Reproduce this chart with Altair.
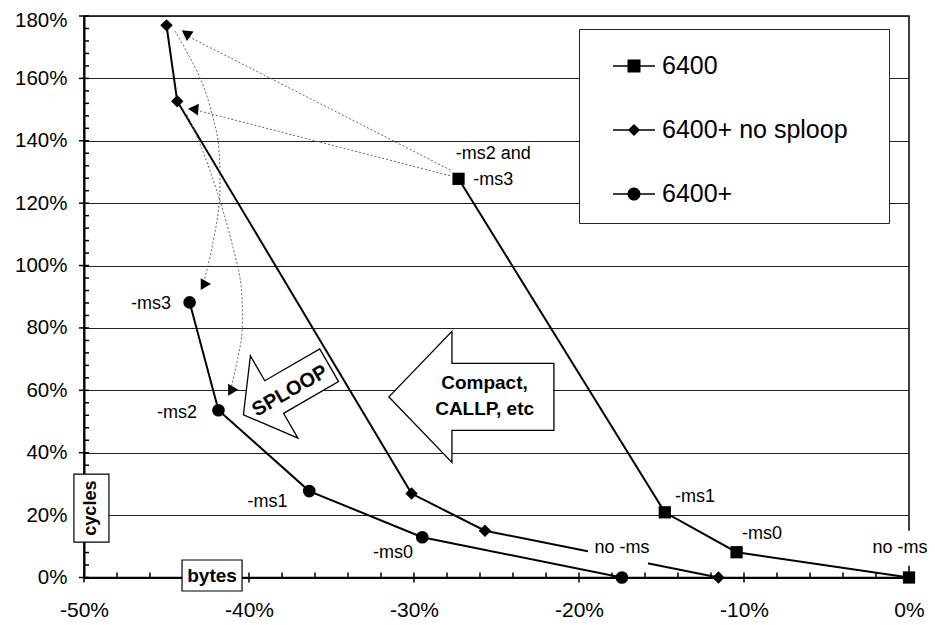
import altair as alt
import pandas as pd

FONT = "Liberation Sans"

# ---------------- data (percent change vs 6400 "no -ms") ----------------
series_names = ["6400", "6400+ no sploop", "6400+"]

x_6400 = [-27.3, -14.8, -10.45, 0.0]
y_6400 = [127.8, 20.9, 8.1, 0.0]

x_nosploop = [-45.0, -44.35, -30.15, -25.7, -11.55]
y_nosploop = [177.0, 152.7, 26.9, 15.0, 0.0]

x_plus = [-43.6, -41.85, -36.35, -29.5, -17.4]
y_plus = [88.2, 53.6, 27.7, 12.9, 0.0]

# point labels
label_text = ["-ms2 and", "-ms3", "-ms1", "-ms0", "no -ms",
              "no -ms", "-ms3", "-ms2", "-ms1", "-ms0"]
label_x = [-25.2, -25.2, -12.97, -8.91, -0.55, -17.39, -45.94, -44.36, -38.88, -31.27]
label_y = [135.8, 127.5, 25.8, 13.9, 9.4, 9.4, 87.8, 52.6, 24.3, 7.8]

# white patches behind the two "no -ms" labels
patch_x = [-0.55, -17.64]
patch_y = [9.4, 9.3]

# axis ticks
x_major = [-50, -40, -30, -20, -10, 0]
x_minor = [-48, -46, -44, -42, -38, -36, -34, -32, -28, -26, -24, -22,
           -18, -16, -14, -12, -8, -6, -4, -2]
y_major = [0, 20, 40, 60, 80, 100, 120, 140, 160, 180]
y_minor = [4, 8, 12, 16, 24, 28, 32, 36, 44, 48, 52, 56, 64, 68, 72, 76,
           84, 88, 92, 96, 104, 108, 112, 116, 124, 128, 132, 136,
           144, 148, 152, 156, 164, 168, 172, 176]

# dotted connector arrows (straight)
line1_x = [-27.78, -43.74]
line1_y = [130.6, 173.6]
line2_x = [-27.82, -43.38]
line2_y = [128.8, 150.1]
# dotted connector arrows (curved)
curveA_x = [-44.48, -42.97, -42.18, -41.82, -41.79, -42.24, -42.73]
curveA_y = [175.2, 160.2, 147.4, 136.8, 120.8, 105.8, 94.9]
curveB_x = [-43.76, -42.79, -41.76, -40.97, -40.48, -40.42, -40.67, -41.09]
curveB_y = [148.5, 136.6, 120.8, 105.8, 93.6, 79.2, 70.6, 60.6]
# arrow heads
head_x = [-43.74, -43.38, -42.77, -41.11]
head_y = [173.6, 150.1, 93.6, 59.7]
head_angle = [275, 5, 300, 300]

# big block arrows and their texts
compact_pos = (-26.52, 57.9)
compact_text = ["Compact,", "CALLP, etc"]
compact_text_x = [-25.73, -25.72]
compact_text_y = [62.2, 53.9]
sploop_pos = (-37.74, 60.1)
sploop_text_pos = (-37.52, 59.8)

bytes_pos = (-42.24, 0.64)
cycles_pos = (-49.55, 22.24)

# ---------------- tables ----------------
rows = []
for name, xs, ys in [(series_names[0], x_6400, y_6400),
                     (series_names[1], x_nosploop, y_nosploop),
                     (series_names[2], x_plus, y_plus)]:
    for i, (xv, yv) in enumerate(zip(xs, ys)):
        rows.append({"series": name, "i": i, "x": xv, "y": yv})
series_df = pd.DataFrame(rows)


def path_df(paths):
    r = []
    for pid, xs, ys in paths:
        for i, (xv, yv) in enumerate(zip(xs, ys)):
            r.append({"path": pid, "i": i, "x": xv, "y": yv})
    return pd.DataFrame(r)


straight_df = path_df([("a", line1_x, line1_y), ("b", line2_x, line2_y)])
curve_df = path_df([("A", curveA_x, curveA_y), ("B", curveB_x, curveB_y)])
labels_df = pd.DataFrame({"t": label_text, "x": label_x, "y": label_y})
patch_df = pd.DataFrame({"x": patch_x, "y": patch_y})

# ---------------- scales / axes ----------------
xscale = alt.Scale(domain=[-50, 0], nice=False, zero=False)
yscale = alt.Scale(domain=[0, 180], nice=False, zero=False)

x_axis = alt.Axis(
    values=x_major, title=None, grid=False, ticks=False, tickSize=0,
    labelExpr="datum.value + '%'",
    labelOverlap=False, labelFlush=False, labelFont=FONT, labelFontSize=21,
    labelColor="black", labelPadding=22,
    domainColor="black", domainWidth=2,
)
y_axis = alt.Axis(
    values=y_major, title=None, grid=True, gridColor="#222", gridWidth=1,
    ticks=False, tickSize=0,
    labelExpr="datum.value + '%'",
    labelOffset=alt.condition("datum.value === 180", alt.value(4), alt.value(0)),
    labelOverlap=False, labelFlush=False, labelFont=FONT, labelFontSize=20.5,
    labelColor="black", labelPadding=17,
    domainColor="black", domainWidth=2,
)


def X():
    return alt.X("x:Q", scale=xscale, axis=x_axis, title=None)


def Y():
    return alt.Y("y:Q", scale=yscale, axis=y_axis, title=None)


def one(pos):
    return pd.DataFrame({"x": [pos[0]], "y": [pos[1]]})


# ---------------- shapes ----------------
LEG_LINE = "M-1,-0.04L1,-0.04L1,0.04L-1,0.04Z"
LEG_SQ = LEG_LINE + " M-0.31,-0.31L0.31,-0.31L0.31,0.31L-0.31,0.31Z"
LEG_DI = LEG_LINE + " M-0.29,0L0,-0.29L0.29,0L0,0.29Z"
LEG_CI = LEG_LINE + " M-0.31,0A0.31,0.31,0,1,1,0.31,0A0.31,0.31,0,1,1,-0.31,0Z"
COMPACT_PATH = "M-1,0L-0.236,-0.794L-0.236,-0.406L1,-0.406L1,0.406L-0.236,0.406L-0.236,0.794Z"
SPLOOP_PATH = "M-1,0L-0.283,-0.96L-0.283,-0.38L1,-0.38L1,0.38L-0.283,0.38L-0.283,0.96Z"
RECT_WIDE = "M-1,-0.517L1,-0.517L1,0.517L-1,0.517Z"
RECT_TALL = "M-0.515,-1L0.515,-1L0.515,1L-0.515,1Z"
RECT_PATCH = "M-1,-0.583L1,-0.583L1,0.583L-1,0.583Z"

# ---------------- layers ----------------
lines = alt.Chart(series_df).mark_line(color="black", strokeWidth=2).encode(
    x=X(), y=Y(), detail="series:N", order="i:Q")

# axis tick marks (major crossing the axis, minor inside)
xt_major = alt.Chart(pd.DataFrame({"x": x_major, "y": [0] * len(x_major)})).mark_tick(
    orient="vertical", size=10, thickness=1.5, color="black", opacity=1).encode(x=X(), y=Y())
xt_minor = alt.Chart(pd.DataFrame({"x": x_minor, "y": [0] * len(x_minor)})).mark_tick(
    orient="vertical", size=5, thickness=1.5, color="black", opacity=1, yOffset=-2.5).encode(
    x=X(), y=Y())
yt_major = alt.Chart(pd.DataFrame({"x": [-50] * len(y_major), "y": y_major})).mark_tick(
    orient="horizontal", size=10, thickness=1.5, color="black", opacity=1).encode(x=X(), y=Y())
yt_minor = alt.Chart(pd.DataFrame({"x": [-50] * len(y_minor), "y": y_minor})).mark_tick(
    orient="horizontal", size=5, thickness=1.5, color="black", opacity=1, xOffset=2.5).encode(
    x=X(), y=Y())

straight = alt.Chart(straight_df).mark_line(color="#666", strokeWidth=1, strokeDash=[2, 2]).encode(
    x=X(), y=Y(), detail="path:N", order="i:Q")
curves = alt.Chart(curve_df).mark_line(color="#666", strokeWidth=1, strokeDash=[2, 2],
                                       interpolate="cardinal").encode(
    x=X(), y=Y(), detail="path:N", order="i:Q")
heads = [
    alt.Chart(one((hx, hy))).mark_point(shape="triangle-left", filled=True, color="black",
                                        size=140, angle=ang, opacity=1).encode(x=X(), y=Y())
    for hx, hy, ang in zip(head_x, head_y, head_angle)
]

compact_arrow = alt.Chart(one(compact_pos)).mark_point(
    shape=COMPACT_PATH, size=27225, filled=True, fill="white", stroke="black",
    strokeWidth=1.3, opacity=1, fillOpacity=1).encode(x=X(), y=Y())
sploop_arrow = alt.Chart(one(sploop_pos)).mark_point(
    shape=SPLOOP_PATH, size=9801, angle=330, filled=True, fill="white", stroke="black",
    strokeWidth=1.3, opacity=1, fillOpacity=1).encode(x=X(), y=Y())

patches = alt.Chart(patch_df).mark_point(
    shape=RECT_PATCH, size=3600, filled=True, color="white", opacity=1).encode(x=X(), y=Y())

points = alt.Chart(series_df).mark_point(filled=True, color="black", opacity=1).encode(
    x=X(), y=Y(),
    shape=alt.Shape("series:N", scale=alt.Scale(domain=series_names,
                                                range=["square", "diamond", "circle"]),
                    legend=None),
    size=alt.Size("series:O", scale=alt.Scale(domain=series_names, range=[150, 160, 200]),
                  legend=None),
)

legend = alt.Legend(
    title=".", titleColor="white", titleFontSize=10, titleOrient="right", titlePadding=22,
    orient="none", legendX=495, legendY=13, direction="vertical",
    padding=16, fillColor="white", strokeColor="#222",
    symbolSize=1764, symbolOffset=18, labelOffset=7, rowPadding=30,
    symbolFillColor="black", symbolStrokeColor="black", symbolStrokeWidth=0,
    labelFont=FONT, labelFontSize=25, labelColor="black", labelLimit=400,
)

# zero-size copy of the series that only carries the legend (line + marker symbols)
legend_pts = alt.Chart(series_df).mark_point(filled=True, color="black", opacity=1,
                                             size=0).encode(
    x=X(), y=Y(),
    shape=alt.Shape("series:N", scale=alt.Scale(domain=series_names,
                                                range=[LEG_SQ, LEG_DI, LEG_CI]),
                    legend=legend),
)

labels = alt.Chart(labels_df).mark_text(font=FONT, fontSize=18, color="black",
                                        align="center", baseline="middle").encode(
    x=X(), y=Y(), text="t:N")

compact_lbl = alt.Chart(pd.DataFrame({"t": compact_text, "x": compact_text_x,
                                      "y": compact_text_y})).mark_text(
    font=FONT, fontSize=19, fontWeight="bold", color="black", align="center",
    baseline="middle").encode(x=X(), y=Y(), text="t:N")
sploop_lbl = alt.Chart(one(sploop_text_pos)).mark_text(
    text="SPLOOP", font=FONT, fontSize=20, fontWeight="bold", color="black",
    align="center", baseline="middle", angle=330).encode(x=X(), y=Y())

bytes_box = alt.Chart(one(bytes_pos)).mark_point(
    shape=RECT_WIDE, size=3600, filled=True, fill="white", stroke="black",
    strokeWidth=1.2, opacity=1).encode(x=X(), y=Y())
bytes_lbl = alt.Chart(one(bytes_pos)).mark_text(
    text="bytes", font=FONT, fontSize=19, fontWeight="bold", color="black",
    align="center", baseline="middle").encode(x=X(), y=Y())
cycles_box = alt.Chart(one(cycles_pos)).mark_point(
    shape=RECT_TALL, size=4624, filled=True, fill="white", stroke="black",
    strokeWidth=1.2, opacity=1).encode(x=X(), y=Y())
cycles_lbl = alt.Chart(one(cycles_pos)).mark_text(
    text="cycles", font=FONT, fontSize=18, fontWeight="bold", color="black",
    align="center", baseline="middle", angle=270).encode(x=X(), y=Y())

chart = alt.layer(
    lines, xt_major, xt_minor, yt_major, yt_minor,
    straight, curves, *heads, compact_arrow, sploop_arrow, patches, points, legend_pts,
    labels, compact_lbl, sploop_lbl, bytes_box, bytes_lbl, cycles_box, cycles_lbl,
).resolve_scale(shape="independent").properties(
    width=825, height=561.5,
    padding={"left": 76, "top": 8, "right": 18, "bottom": 47},
    autosize=alt.AutoSizeParams(type="none"),
    background="white",
).configure_view(stroke="black", strokeWidth=1.5)

chart.save("out.html", embed_options={"renderer": "svg", "actions": False})
